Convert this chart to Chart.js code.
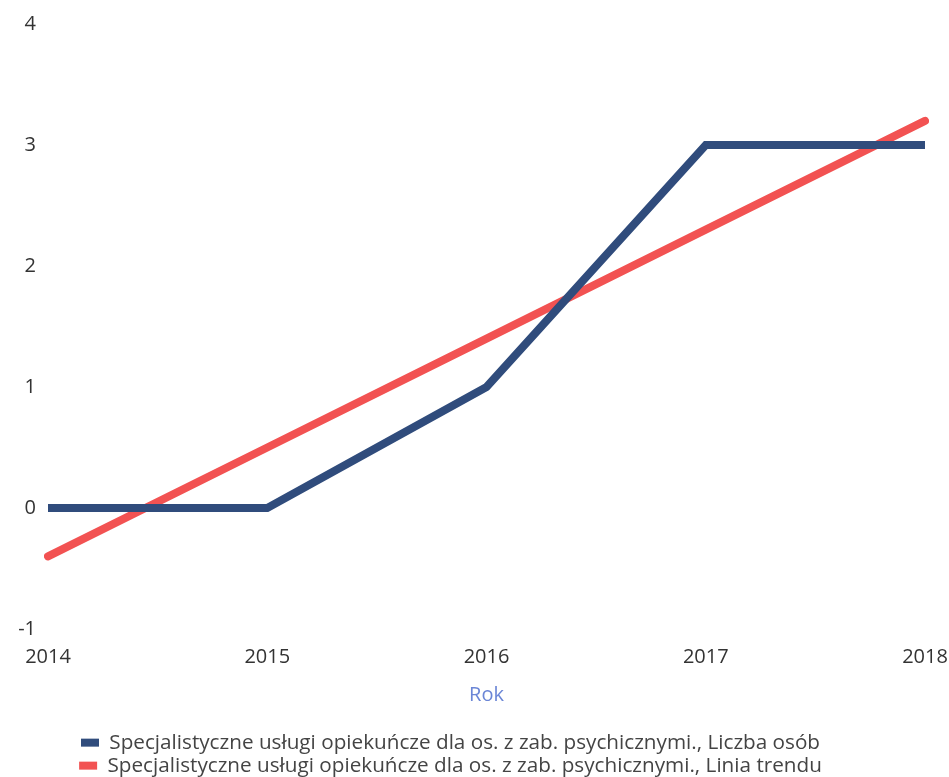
<!DOCTYPE html>
<html>
<head>
<meta charset="utf-8">
<script src="https://cdn.jsdelivr.net/npm/chart.js@4"></script>
<style>
  html, body { margin: 0; padding: 0; background: #fff; }
  #wrap { width: 949px; height: 777px; }
</style>
</head>
<body>
<div id="wrap"><canvas id="myChart" width="949" height="777"></canvas></div>
<script>
// --------------------------- DATA ---------------------------
const years = ['2014', '2015', '2016', '2017', '2018'];
const liczbaOsob = [0, 0, 1, 3, 3];
const liniaTrendu = [-0.4, 0.5, 1.4, 2.3, 3.2];
const yTicks = [-1, 0, 1, 2, 3, 4];

const seriesNames = [
    'Specjalistyczne usługi opiekuńcze dla os. z zab. psychicznymi., Liczba osób',
    'Specjalistyczne usługi opiekuńcze dla os. z zab. psychicznymi., Linia trendu'
];

const fontFamily = "'Open Sans', 'Noto Sans', sans-serif";

// nudge the legend left and down, like the original
const legendShift = {
    id: 'legendShift',
    afterLayout: (chart) => {
        chart.legend.left -= 58;
        chart.legend.top += 9;
        chart.legend.bottom += 9;
    }
};

// --------------------------- CHART ---------------------------
let ctx = document.querySelector('#myChart');
let myChart = new Chart(ctx, {
    type: 'line',
    data: {
        labels: years,
        datasets: [{
            label: seriesNames[0],
            data: liczbaOsob,
            borderColor: '#304c7c',
            backgroundColor: '#304c7c',
            borderWidth: 8,
            borderCapStyle: 'butt',
            pointRadius: 0,
            tension: 0
        }, {
            label: seriesNames[1],
            data: liniaTrendu,
            borderColor: '#f25252',
            backgroundColor: '#f25252',
            borderWidth: 8,
            borderCapStyle: 'round',
            pointRadius: 0,
            tension: 0
        }]
    },
    options: {
        responsive: false,
        animation: false,
        layout: { padding: { top: 12, left: 10, right: 0, bottom: 0 } },
        scales: {
            x: {
                offset: false,
                grid: { display: false, drawTicks: false },
                border: { display: false },
                afterFit: (scale) => { scale.paddingRight = 24; scale.paddingLeft = 0; },
                ticks: { color: '#333', font: { family: fontFamily, size: 20 }, maxRotation: 0, padding: 16 },
                title: { display: true, text: 'Rok', color: '#6b86d6', font: { family: fontFamily, size: 20, lineHeight: 1 }, padding: { top: 0, bottom: 16 } }
            },
            y: {
                min: yTicks[0],
                max: yTicks[yTicks.length - 1],
                grid: { display: false, drawTicks: false },
                border: { display: false },
                afterBuildTicks: (scale) => { scale.ticks = yTicks.map(v => ({ value: v })); },
                afterFit: (scale) => { scale.width = 38; },
                ticks: { color: '#333', font: { family: fontFamily, size: 20 }, padding: 12 }
            }
        },
        plugins: {
            legend: {
                position: 'bottom',
                labels: {
                    boxWidth: 18,
                    boxHeight: 8,
                    color: '#444',
                    font: { family: fontFamily, size: 20.7 },
                    padding: 2.3,
                    generateLabels: (chart) => {
                        const items = Chart.defaults.plugins.legend.labels.generateLabels(chart);
                        items.forEach(it => { it.lineWidth = 0; });
                        return items;
                    }
                }
            },
            tooltip: { enabled: false }
        }
    },
    plugins: [legendShift]
});
</script>
</body>
</html>
